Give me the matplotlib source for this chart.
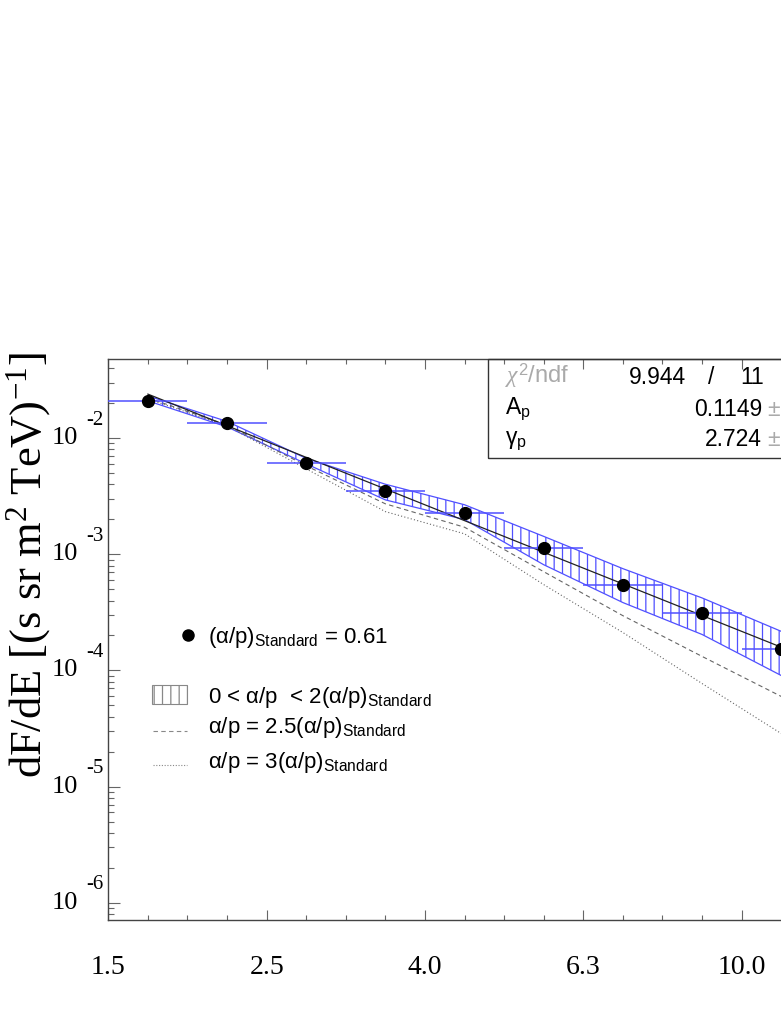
import matplotlib
matplotlib.use('Agg')
import matplotlib.pyplot as plt
import numpy as np
from matplotlib.patches import Rectangle
from matplotlib.lines import Line2D
import matplotlib.transforms as mtransforms
from matplotlib.ticker import FixedLocator, LogLocator, NullFormatter, MultipleLocator

plt.rcParams['mathtext.fontset'] = 'custom'
plt.rcParams['mathtext.rm'] = 'Liberation Serif'
plt.rcParams['mathtext.sf'] = 'Liberation Sans'
plt.rcParams['mathtext.it'] = 'Liberation Serif:italic'
plt.rcParams['hatch.linewidth'] = 0.9

# ---------------- data ----------------
log_e = [0.25, 0.35, 0.45, 0.55, 0.65, 0.75, 0.85, 0.95, 1.05]   # log10(E/TeV), bin centres
bin_half = [0.05] * 9
flux = [2.10e-2, 1.34e-2, 6.14e-3, 3.54e-3, 2.28e-3, 1.14e-3, 5.41e-4, 3.13e-4, 1.53e-4]
flux_err = [2.5e-3, 1.3e-3, 5.0e-4, 2.8e-4, 1.8e-4, 9.0e-5, 4.3e-5, 2.5e-5, 1.2e-5]

band_upper = [2.31e-2, 1.393e-2, 6.70e-3, 4.01e-3, 2.67e-3, 1.426e-3, 7.52e-4, 4.21e-4, 2.17e-4]
band_lower = [2.094e-2, 1.250e-2, 6.01e-3, 2.94e-3, 1.99e-3, 8.13e-4, 3.84e-4, 2.04e-4, 9.04e-5]
dashed_25 = [2.22e-2, 1.30e-2, 5.78e-3, 2.72e-3, 1.71e-3, 7.08e-4, 2.96e-4, 1.32e-4, 5.97e-5]
dotted_3 = [2.18e-2, 1.276e-2, 5.44e-3, 2.33e-3, 1.50e-3, 5.48e-4, 2.12e-4, 7.71e-5, 2.86e-5]

A_p = 0.1149
gamma_p = 2.724
chi2, ndf = 9.944, 11

x_tick_pos = [0.2, 0.4, 0.6, 0.8, 1.0]
x_tick_labels = ['1.5', '2.5', '4.0', '6.3', '10.0']
y_decades = [-2, -3, -4, -5, -6]

# ---------------- figure ----------------
W, H = 781, 1011
fig = plt.figure(figsize=(W / 100, H / 100), dpi=100)
ax_l, ax_r, ax_t, ax_b = 108.3, 781.0, 359.3, 920.0
ax = fig.add_axes([ax_l / W, 1 - ax_b / H, (ax_r - ax_l) / W, (ax_b - ax_t) / H])

ax.set_yscale('log')
ax.set_xlim(0.2, 0.2 + (ax_r - ax_l) / 791.7)
ax.set_ylim(10 ** -6.149, 10 ** -1.321)

blue = '#5050ff'
fit_y = [A_p * (10 ** x) ** (-gamma_p) for x in log_e]

ax.fill_between(log_e, band_lower, band_upper, facecolor='none', edgecolor=blue,
                hatch='||', linewidth=0, zorder=2)
ax.plot(log_e, band_upper, color=blue, lw=0.9, zorder=2)
ax.plot(log_e, band_lower, color=blue, lw=0.9, zorder=2)
ax.plot(log_e, dashed_25, color='#666666', lw=0.8, ls=(0, (4, 3)), zorder=2)
ax.plot(log_e, dotted_3, color='#666666', lw=0.8, ls=(0, (1, 2)), zorder=2)
ax.plot(log_e, fit_y, color='#222222', lw=0.9, zorder=3)
ax.errorbar(log_e, flux, xerr=bin_half, yerr=flux_err, fmt='o', color='black',
            ms=8.5, ecolor=blue, elinewidth=1.1, capsize=0, zorder=4)

# spines / ticks
for s in ['left', 'bottom', 'top']:
    ax.spines[s].set_color('#444444')
    ax.spines[s].set_linewidth(1.0)
ax.spines['right'].set_visible(False)

ax.xaxis.set_major_locator(FixedLocator(x_tick_pos))
ax.set_xticklabels(x_tick_labels, fontfamily='Liberation Serif', fontsize=20)
ax.xaxis.set_minor_locator(MultipleLocator(0.05))
ax.tick_params(axis='x', which='both', direction='in', top=True, bottom=True,
               color='#666666', width=0.8, pad=25)
ax.tick_params(axis='x', which='major', length=7.2)
ax.tick_params(axis='x', which='minor', length=3.6)

ax.yaxis.set_major_locator(LogLocator(base=10, numticks=20))
ax.yaxis.set_minor_locator(LogLocator(base=10, subs=np.arange(2, 10), numticks=20))
ax.yaxis.set_major_formatter(NullFormatter())
ax.yaxis.set_minor_formatter(NullFormatter())
ax.tick_params(axis='y', which='both', direction='in', left=True, right=False,
               color='#666666', width=0.8)
ax.tick_params(axis='y', which='major', length=8.6)
ax.tick_params(axis='y', which='minor', length=4.3)

bt = mtransforms.blended_transform_factory(ax.transAxes, ax.transData)
for e in y_decades:
    ax.text((78 - ax_l) / (ax_r - ax_l), 10 ** e, '10', transform=bt, ha='right', va='center',
            fontfamily='Liberation Serif', fontsize=19)
    ax.text((86 - ax_l) / (ax_r - ax_l), 10 ** (e + 18 / 116.3), '%d' % e, transform=bt,
            ha='left', va='center', fontfamily='Liberation Serif', fontsize=15)

fig.text(29 / W, 1 - 565 / H, r'dF/dE [(s sr m$^{2}$ TeV)$^{-1}$]', rotation=90,
         ha='center', va='center', fontfamily='Liberation Serif', fontsize=32)

def fx(px):
    return (px - ax_l) / (ax_r - ax_l)

def fy(py):
    return (ax_b - py) / (ax_b - ax_t)

# stats box
ax.add_patch(Rectangle((fx(488), fy(458)), 0.6, fy(ax_t) - fy(458), transform=ax.transAxes,
                       fill=False, edgecolor='#333333', lw=1.0, clip_on=False, zorder=5))
sfont = dict(fontfamily='Liberation Sans', fontsize=16.5, transform=ax.transAxes, va='center')
ax.text(fx(505), fy(376), r'$\chi^{\mathsf{2}}$/ndf', color='#aaaaaa', ha='left',
        fontfamily='Liberation Sans', fontsize=17, transform=ax.transAxes, va='center')
ax.text(fx(629), fy(378), '%.3f' % chi2, ha='left', **sfont)
ax.text(fx(711), fy(378), '/', ha='center', **sfont)
ax.text(fx(764), fy(378), '%d' % ndf, ha='right', **sfont)
ax.text(fx(505), fy(409), 'A$_{\\mathsf{p}}$', ha='left', **sfont)
ax.text(fx(762), fy(409), '%.4f' % A_p, ha='right', **sfont)
ax.text(fx(767), fy(409), '\u00b1', ha='left', color='#aaaaaa', **sfont)
ax.text(fx(505), fy(440), '\u03b3$_{\\mathsf{p}}$', ha='left', **sfont)
ax.text(fx(762), fy(440), '%.3f' % gamma_p, ha='right', **sfont)
ax.text(fx(767), fy(440), '\u00b1', ha='left', color='#aaaaaa', **sfont)

# legend
lfont = dict(fontfamily='Liberation Sans', fontsize=16, transform=ax.transAxes,
             va='baseline', ha='left')
ax.plot([fx(187.5)], [fy(635)], 'o', color='black', ms=8, transform=ax.transAxes,
        clip_on=False)
ax.text(fx(208), fy(643), '(\u03b1/p)$_{\\mathsf{Standard}}$ = 0.61', **lfont)
ax.add_patch(Rectangle((fx(151.7), fy(704.3)), fx(187.3) - fx(151.7), fy(685) - fy(704.3),
                       transform=ax.transAxes, facecolor='white', edgecolor='#888888',
                       hatch='||', lw=0.8))
ax.text(fx(208), fy(703), '0 < \u03b1/p  < 2(\u03b1/p)$_{\\mathsf{Standard}}$', **lfont)
ax.add_line(Line2D([fx(152.7), fx(187.3)], [fy(731), fy(731)], transform=ax.transAxes,
                   color='#888888', lw=0.8, ls=(0, (4, 3))))
ax.text(fx(208), fy(733), '\u03b1/p = 2.5(\u03b1/p)$_{\\mathsf{Standard}}$', **lfont)
ax.add_line(Line2D([fx(152.7), fx(187.3)], [fy(765), fy(765)], transform=ax.transAxes,
                   color='#888888', lw=0.8, ls=(0, (1, 1.5))))
ax.text(fx(208), fy(768), '\u03b1/p = 3(\u03b1/p)$_{\\mathsf{Standard}}$', **lfont)

fig.savefig('out.png', dpi=100)
